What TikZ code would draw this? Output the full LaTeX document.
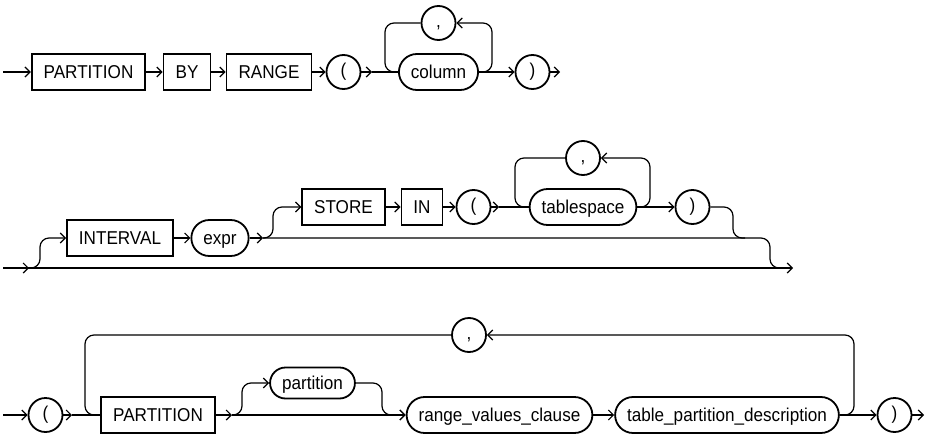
\documentclass[tikz,border=0pt]{standalone}
\usepackage{fontspec}
\setmainfont{Liberation Sans}[FakeStretch=0.92]
\usetikzlibrary{arrows.meta}
\begin{document}
\begin{tikzpicture}[x=1pt,y=-1pt,
  line width=1.2pt,
  font=\fontsize{18.6}{21}\selectfont,
  arr/.style={-{Straight Barb[length=5pt,width=10pt,line width=1.2pt]}},
  kw/.style={draw, line width=1.8pt, rectangle, minimum height=36pt, inner xsep=12pt, inner ysep=0pt, text height=13.3pt, text depth=0pt},
  nt/.style={draw, line width=1.8pt, rectangle, rounded corners=18pt, minimum height=36pt, inner xsep=12pt, inner ysep=0pt, text height=13.3pt, text depth=0pt},
  pn/.style={draw, line width=1.8pt, circle, minimum size=34pt, inner sep=0pt, text height=9.5pt, text depth=0pt},
  loopc/.style={rounded corners=9pt}
]
\useasboundingbox (0,0) rectangle (926,436);

% ---------- row 1 ----------
\coordinate (s1) at (3,72);
\node[kw] (p1) at (88.5,72) {PARTITION};
\node[kw] (by) at (187,72) {BY};
\node[kw] (rng) at (269,72) {RANGE};
\node[pn] (lp1) at (343.5,72) {(};
\node[nt] (col) at (438.5,72) {column};
\node[pn] (cm1) at (438.5,23) {,};
\node[pn] (rp1) at (532.5,72) {)};
\coordinate (e1) at (560,72);
\coordinate (a1) at (372,72);
\coordinate (jl1) at (385,72);
\coordinate (jr1) at (492,72);

\draw[arr] (s1) -- (p1);
\draw[arr] (p1) -- (by);
\draw[arr] (by) -- (rng);
\draw[arr] (rng) -- (lp1);
\draw[arr] (lp1) -- (a1);
\draw (a1) -- (col);
\draw[arr] (col) -- (rp1);
\draw[arr] (rp1) -- (e1);
\draw[loopc] (cm1) -| (jl1) -- (col.west);
\draw[arr,loopc] (col.east) -- (jr1) |- (cm1);

% ---------- row 2 ----------
\coordinate (s2) at (3,268);
\coordinate (e2) at (793,268);
\coordinate (j2a) at (29,268);
\coordinate (v2a) at (40,268);
\node[kw] (int) at (120,238) {INTERVAL};
\node[nt] (expr) at (220,238) {expr};
\coordinate (j2b) at (263,238);
\coordinate (v2b) at (273,238);
\node[kw] (store) at (343.5,207) {STORE};
\node[kw] (inn) at (422,207) {IN};
\node[pn] (lp2) at (473.5,207) {(};
\coordinate (a2) at (499,207);
\coordinate (jl2) at (515,207);
\coordinate (jr2) at (650,207);
\node[nt] (ts) at (583,207) {tablespace};
\node[pn] (cm2) at (583,158) {,};
\node[pn] (rp2) at (692.5,207) {)};
\coordinate (v2c) at (733,207);
\coordinate (m2) at (745,238);
\coordinate (v2d) at (770,238);
\coordinate (b2) at (782,268);

\draw[arr] (s2) -- (j2a);
\draw[arr] (s2) -- (e2);
\draw[arr,loopc] (j2a) -- (v2a) |- (int);
\draw[arr] (int) -- (expr);
\draw[arr] (expr) -- (j2b);
\draw[loopc] (j2b) -- (v2d) |- (b2);
\draw[arr,loopc] (j2b) -- (v2b) |- (store);
\draw[arr] (store) -- (inn);
\draw[arr] (inn) -- (lp2);
\draw[arr] (lp2) -- (a2);
\draw (a2) -- (ts);
\draw[arr] (ts) -- (rp2);
\draw[loopc] (cm2) -| (jl2) -- (ts.west);
\draw[arr,loopc] (ts.east) -- (jr2) |- (cm2);
\draw[loopc] (rp2) -- (v2c) |- (m2);

% ---------- row 3 ----------
\coordinate (s3) at (3,415);
\node[pn] (lp3) at (45.5,415) {(};
\coordinate (a3) at (72,415);
\coordinate (jl3) at (85,415);
\node[kw] (pt3) at (158,415) {PARTITION};
\coordinate (j3b) at (232,415);
\coordinate (v3b) at (242,415);
\node[nt, minimum height=31pt, rounded corners=15.5pt] (prt) at (312.5,383) {partition};
\coordinate (v3c) at (382,383);
\node[nt] (rvc) at (499.5,415) {range\_values\_clause};
\node[nt] (tpd) at (727,415) {table\_partition\_description};
\coordinate (jr3) at (854,415);
\node[pn] (rp3) at (894.5,415) {)};
\coordinate (e3) at (924,415);
\node[pn] (cm3) at (469,335) {,};

\draw[arr] (s3) -- (lp3);
\draw[arr] (lp3) -- (a3);
\draw (a3) -- (pt3);
\draw[loopc] (cm3) -| (jl3) -- (pt3.west);
\draw[arr] (pt3) -- (j3b);
\draw[arr] (j3b) -- (rvc);
\draw[arr,loopc] (j3b) -- (v3b) |- (prt);
\draw[arr,loopc] (prt) -- (v3c) |- (rvc);
\draw[arr] (rvc) -- (tpd);
\draw[arr] (tpd) -- (rp3);
\draw[arr] (rp3) -- (e3);
\draw[arr,loopc] (tpd.east) -- (jr3) |- (cm3);
\end{tikzpicture}
\end{document}
